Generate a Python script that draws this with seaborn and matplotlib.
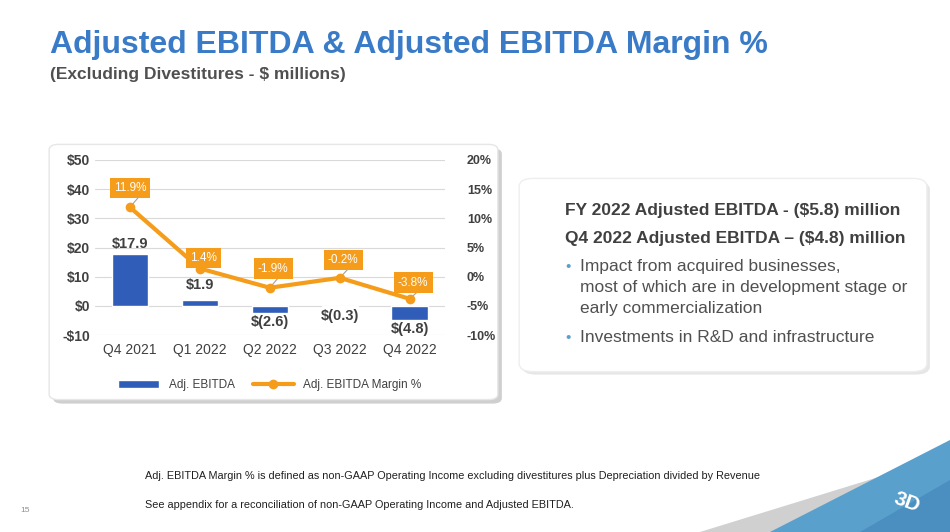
import matplotlib
matplotlib.use("Agg")
import matplotlib.pyplot as plt
import seaborn as sns
import pandas as pd
from matplotlib.patches import FancyBboxPatch, Polygon

quarters = ["Q4 2021", "Q1 2022", "Q2 2022", "Q3 2022", "Q4 2022"]
ebitda = [17.9, 1.9, -2.6, -0.3, -4.8]
ebitda_labels = ["$17.9", "$1.9", "$(2.6)", "$(0.3)", "$(4.8)"]
margin = [11.9, 1.4, -1.9, -0.2, -3.8]
margin_labels = ["11.9%", "1.4%", "-1.9%", "-0.2%", "-3.8%"]
left_ticks = [-10, 0, 10, 20, 30, 40, 50]
right_ticks = [-10, -5, 0, 5, 10, 15, 20]

sns.set_theme(style="white")
plt.rcParams['font.family'] = ['Liberation Sans', 'DejaVu Sans']

fig = plt.figure(figsize=(9.5, 5.32), dpi=100)
fig.patch.set_facecolor("white")

def px(x, y):
    return x / 950, 1 - y / 532

fig.patches.append(FancyBboxPatch(px(56, 402), 443 / 950, 252 / 532,
    boxstyle="round,pad=0.003,rounding_size=0.01", transform=fig.transFigure,
    facecolor="#cfcfcf", edgecolor="none", zorder=0))
fig.patches.append(FancyBboxPatch(px(52, 398), 443 / 950, 252 / 532,
    boxstyle="round,pad=0.003,rounding_size=0.01", transform=fig.transFigure,
    facecolor="white", edgecolor="#e6e6e6", zorder=0.5))
fig.patches.append(FancyBboxPatch(px(525, 373), 402 / 950, 190 / 532,
    boxstyle="round,pad=0.003,rounding_size=0.015", transform=fig.transFigure,
    facecolor="#e6e6e6", edgecolor="none", zorder=0))
fig.patches.append(FancyBboxPatch(px(522, 370), 402 / 950, 190 / 532,
    boxstyle="round,pad=0.003,rounding_size=0.015", transform=fig.transFigure,
    facecolor="white", edgecolor="#eeeeee", zorder=0.5))

fig.patches.append(Polygon([px(700, 532), px(950, 455), px(950, 532)], closed=True,
    transform=fig.transFigure, facecolor="#d0d0d0", edgecolor="none", zorder=0))
fig.patches.append(Polygon([px(770, 532), px(950, 440), px(950, 532)], closed=True,
    transform=fig.transFigure, facecolor="#5aa0cc", edgecolor="none", zorder=0))
fig.patches.append(Polygon([px(860, 532), px(950, 480), px(950, 532)], closed=True,
    transform=fig.transFigure, facecolor="#4a8fc0", edgecolor="none", zorder=0))
fig.text(0.955, 0.055, "3D", color="white", fontsize=15, fontweight="bold",
         ha="center", va="center", rotation=-20)

ax = fig.add_axes([0.1, 1 - 335 / 532, 0.368, (335 - 160) / 532])
ax.set_zorder(2)
ax.set_facecolor("none")
df = pd.DataFrame({"quarter": quarters, "ebitda": ebitda})
sns.barplot(data=df, x="quarter", y="ebitda", ax=ax, color="#2f5db8", width=0.52,
            saturation=1, label="Adj. EBITDA", zorder=3)
if ax.get_legend() is not None:
    ax.get_legend().remove()
ax.set_ylim(-10, 50)
ax.set_yticks(left_ticks)
ax.set_yticklabels([f"${v}" if v >= 0 else f"-${-v}" for v in left_ticks],
                   fontsize=10, fontweight="bold", color="#404040")
ax.tick_params(axis="x", labelsize=10, colors="#404040", length=0, pad=6)
ax.tick_params(axis="y", length=0)
ax.set_xlabel("")
ax.set_ylabel("")
ax.grid(axis="y", color="#d9d9d9", lw=0.8, zorder=0)
for s in ax.spines.values():
    s.set_visible(False)
for i, (v, lab) in enumerate(zip(ebitda, ebitda_labels)):
    if v >= 0:
        ax.text(i, v + 0.8 if i == 0 else v + 3, lab, ha="center", va="bottom",
                fontsize=10.5, fontweight="bold", color="#404040")
    else:
        ax.text(i, v - 0.7, lab, ha="center", va="top", fontsize=10.5,
                fontweight="bold", color="#404040")

ax2 = ax.twinx()
ax2.set_zorder(3)
ax2.set_facecolor("none")
sns.lineplot(x=list(range(len(quarters))), y=margin, ax=ax2, color="#f59c1a", lw=3,
             marker="o", markersize=7, markeredgewidth=0, label="Adj. EBITDA Margin %",
             legend=False, zorder=4)
ax2.set_ylim(-10, 20)
ax2.set_yticks(right_ticks)
ax2.set_yticklabels([f"{v}%" for v in right_ticks], fontsize=9, fontweight="bold",
                    color="#404040")
ax2.tick_params(axis="y", length=0, pad=16)
ax2.set_ylabel("")
for s in ax2.spines.values():
    s.set_visible(False)
offsets = [3.3, 1.8, 3.3, 3.1, 2.8]
for i, (v, lab, o) in enumerate(zip(margin, margin_labels, offsets)):
    ax2.plot([i, i + 0.15], [v, v + o - 1.2], color="#a0a0a0", lw=0.8, zorder=3)
    ax2.text(i + (0.05 if i else 0), v + o, lab, ha="center", va="center", fontsize=8.5,
             color="white", zorder=5,
             bbox=dict(boxstyle="square,pad=0.35", facecolor="#f59c1a", edgecolor="none"))
ax.set_xlim(-0.5, 4.5)

h1, l1 = ax.get_legend_handles_labels()
h2, l2 = ax2.get_legend_handles_labels()
ax2.legend(h1 + h2, l1 + l2, loc="upper center", bbox_to_anchor=(0.5, -0.19), ncol=2,
           frameon=False, fontsize=8.5, handlelength=3.5, columnspacing=1.5,
           labelcolor="#404040")

fig.text(50 / 950, 1 - 45 / 532, "Adjusted EBITDA & Adjusted EBITDA Margin %",
         fontsize=23, fontweight="bold", color="#3a7bc8", va="center")
fig.text(50 / 950, 1 - 75 / 532, "(Excluding Divestitures - $ millions)",
         fontsize=12.5, fontweight="bold", color="#505050", va="center")

fig.text(565 / 950, 1 - 210 / 532, "FY 2022 Adjusted EBITDA - ($5.8) million",
         fontsize=12.5, fontweight="bold", color="#404040", va="center")
fig.text(565 / 950, 1 - 238 / 532, "Q4 2022 Adjusted EBITDA \u2013 ($4.8) million",
         fontsize=12.5, fontweight="bold", color="#404040", va="center")
fig.text(565 / 950, 1 - 267 / 532, "\u2022", fontsize=11, color="#5aa0cc", va="center")
fig.text(580 / 950, 1 - 259 / 532,
         "Impact from acquired businesses,\nmost of which are in development stage or\nearly commercialization",
         fontsize=12.5, color="#505050", va="top", linespacing=1.5)
fig.text(565 / 950, 1 - 338 / 532, "\u2022", fontsize=11, color="#5aa0cc", va="center")
fig.text(580 / 950, 1 - 338 / 532, "Investments in R&D and infrastructure",
         fontsize=12.5, color="#505050", va="center")

fig.text(145 / 950, 1 - 476 / 532,
         "Adj. EBITDA Margin % is defined as non-GAAP Operating Income excluding divestitures plus Depreciation divided by Revenue",
         fontsize=7.8, color="#202020", va="center")
fig.text(145 / 950, 1 - 505 / 532,
         "See appendix for a reconciliation of non-GAAP Operating Income and Adjusted EBITDA.",
         fontsize=7.8, color="#202020", va="center")
fig.text(20 / 950, 1 - 510 / 532, "15", fontsize=6, color="#909090", va="center")

fig.savefig("out.png", dpi=100, facecolor="white")
